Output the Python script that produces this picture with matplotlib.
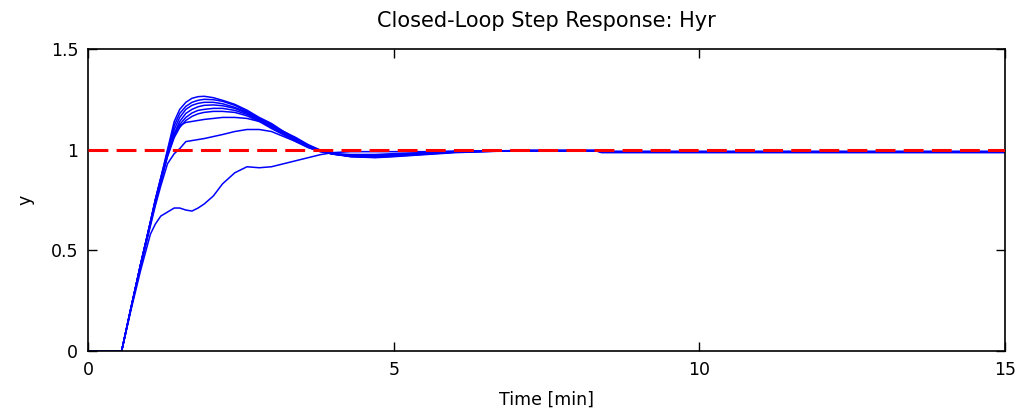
import matplotlib
matplotlib.use("Agg")
import matplotlib.pyplot as plt

# time grid [min]
t_pts = [0, 0.55, 0.7, 0.86, 1.02, 1.1, 1.19, 1.3, 1.41, 1.5, 1.6, 1.7, 1.8, 1.9,
         2.05, 2.2, 2.4, 2.6, 2.8, 3.0, 3.2, 3.4, 3.6, 3.8, 4.0, 4.3, 4.7, 5.0,
         5.5, 6.0, 7.0, 8.3, 8.4, 15.0]

# step responses, highest overshoot first
y_1 = [0, 0, 0.21, 0.43, 0.64, 0.75, 0.86, 1.0, 1.14, 1.2, 1.235, 1.255, 1.263, 1.265,
       1.258, 1.245, 1.225, 1.196, 1.16, 1.13, 1.09, 1.06, 1.025, 0.998, 0.98, 0.965, 0.96, 0.965,
       0.975, 0.985, 0.995, 0.995, 0.985, 0.985]
y_2 = [0, 0, 0.21, 0.43, 0.64, 0.75, 0.86, 0.99, 1.12, 1.18, 1.215, 1.235, 1.245, 1.25,
       1.248, 1.24, 1.22, 1.19, 1.155, 1.125, 1.085, 1.055, 1.02, 0.995, 0.978, 0.965, 0.962, 0.967,
       0.977, 0.987, 0.995, 0.995, 0.988, 0.988]
y_3 = [0, 0, 0.21, 0.43, 0.64, 0.75, 0.855, 0.98, 1.1, 1.16, 1.2, 1.22, 1.23, 1.235,
       1.235, 1.228, 1.21, 1.185, 1.15, 1.12, 1.082, 1.05, 1.02, 0.995, 0.978, 0.967, 0.964, 0.969,
       0.979, 0.988, 0.995, 0.995, 0.989, 0.989]
y_4 = [0, 0, 0.21, 0.43, 0.64, 0.745, 0.85, 0.975, 1.08, 1.14, 1.18, 1.2, 1.213, 1.22,
       1.222, 1.218, 1.205, 1.18, 1.148, 1.115, 1.08, 1.045, 1.015, 0.993, 0.978, 0.968, 0.966, 0.971,
       0.98, 0.989, 0.995, 0.995, 0.99, 0.99]
y_5 = [0, 0, 0.21, 0.43, 0.635, 0.74, 0.845, 0.97, 1.07, 1.125, 1.16, 1.182, 1.195, 1.2,
       1.205, 1.205, 1.195, 1.175, 1.145, 1.11, 1.077, 1.045, 1.015, 0.993, 0.979, 0.97, 0.968, 0.973,
       0.982, 0.99, 0.995, 0.995, 0.99, 0.99]
y_6 = [0, 0, 0.21, 0.43, 0.635, 0.74, 0.84, 0.965, 1.06, 1.11, 1.145, 1.165, 1.178, 1.185,
       1.19, 1.19, 1.185, 1.168, 1.14, 1.105, 1.073, 1.04, 1.012, 0.99, 0.979, 0.971, 0.97, 0.975,
       0.983, 0.99, 0.995, 0.995, 0.99, 0.99]
y_7 = [0, 0, 0.21, 0.42, 0.63, 0.73, 0.84, 0.98, 1.08, 1.12, 1.135, 1.14, 1.145, 1.15,
       1.155, 1.16, 1.16, 1.155, 1.14, 1.12, 1.09, 1.055, 1.02, 0.995, 0.98, 0.972, 0.972, 0.976,
       0.984, 0.99, 0.995, 0.995, 0.99, 0.99]
y_8 = [0, 0, 0.21, 0.42, 0.62, 0.72, 0.82, 0.93, 0.98, 1.005, 1.04, 1.045, 1.05, 1.055,
       1.065, 1.075, 1.09, 1.1, 1.1, 1.09, 1.065, 1.04, 1.01, 0.99, 0.98, 0.976, 0.976, 0.98,
       0.985, 0.99, 0.995, 0.995, 0.99, 0.99]
y_9 = [0, 0, 0.2, 0.4, 0.58, 0.63, 0.67, 0.69, 0.71, 0.71, 0.7, 0.695, 0.71, 0.73,
       0.77, 0.83, 0.885, 0.915, 0.91, 0.915, 0.93, 0.945, 0.96, 0.975, 0.985, 0.99, 0.99, 0.99,
       0.99, 0.993, 0.995, 0.995, 0.99, 0.99]

responses = [y_1, y_2, y_3, y_4, y_5, y_6, y_7, y_8, y_9]

setpoint = 1.0
x_ticks = [0, 5, 10, 15]
y_ticks = [0, 0.5, 1, 1.5]
y_tick_labels = ["0", "0.5", "1", "1.5"]

plt.rcParams["font.family"] = ["DejaVu Sans"]
plt.rcParams["font.size"] = 12.5

fig = plt.figure(figsize=(10.26, 4.16), dpi=100)
ax = fig.add_axes([0.0858, 0.1563, 0.8938, 0.726])

for y in responses:
    ax.plot(t_pts, y, color="#0000ff", linewidth=1.1, solid_joinstyle="round")

ax.axhline(setpoint, color="#ff0000", linewidth=2.2, dashes=(6.5, 2.7), zorder=5)

ax.set_xlim(0, 15)
ax.set_ylim(0, 1.5)
ax.set_xticks(x_ticks)
ax.set_yticks(y_ticks)
ax.set_yticklabels(y_tick_labels)
ax.tick_params(direction="in", top=True, right=True, length=6.5, width=1.0, pad=7)
for side in ax.spines.values():
    side.set_linewidth(1.2)

ax.set_title("Closed-Loop Step Response: Hyr", pad=16)
ax.set_xlabel("Time [min]")
ax.set_ylabel("y")
ax.xaxis.set_label_coords(0.5, -0.13)
ax.yaxis.set_label_coords(-0.058, 0.5)

fig.savefig("out.png", dpi=100)
plt.close(fig)
